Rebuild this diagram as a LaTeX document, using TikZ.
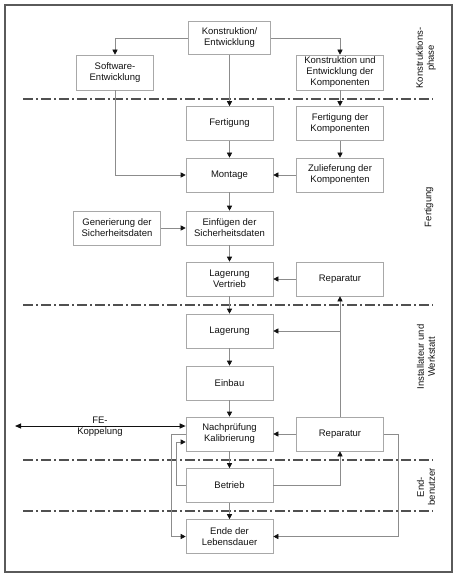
\documentclass[tikz,border=0pt]{standalone}
\usepackage{fontspec}
\setmainfont{Liberation Sans}
\usetikzlibrary{arrows.meta}
\definecolor{ink}{HTML}{111111}
\definecolor{linegray}{HTML}{8C8C8C}
\definecolor{boxgray}{HTML}{A8A8A8}
\definecolor{sepgray}{HTML}{505050}
\definecolor{framegray}{HTML}{5A5A5A}

\begin{document}
\begin{tikzpicture}[
  x=1pt, y=-1pt, font=\fontsize{9.5}{11}\selectfont,
  box/.style={draw=boxgray, line width=0.6pt, minimum width=87pt, minimum height=34pt, inner sep=1pt, align=center, text=ink},
  arr/.style={draw=linegray, line width=0.6pt, -{Triangle[length=5pt,width=5pt,color=ink]}},
  phaseline/.style={draw=sepgray, line width=1.2pt, dash pattern=on 10pt off 3pt on 2pt off 3pt},
  phase/.style={rotate=90, align=center, text=ink},
  coupling/.style={draw=ink, line width=1pt, {Triangle[length=6pt,width=5pt]}-{Triangle[length=6pt,width=5pt]}}
]
\useasboundingbox (0,0) rectangle (457,577);
\draw[framegray, line width=1.2pt] (5,5) rectangle (452,572);

% Phasengrenzen
\foreach \y in {99,305,460,511} {\draw[phaseline] (23,\y) -- (433,\y);}

% Konstruktionsphase
\node[box, minimum width=82pt, minimum height=33pt] (konst) at (229.5,38) {Konstruktion/\\Entwicklung};
\node[box, minimum width=77pt, minimum height=35pt] (sw) at (115,72.5) {Software-\\Entwicklung};
\node[box, minimum height=35pt] (kek) at (340,72.5) {Konstruktion und\\Entwicklung der\\Komponenten};

% Fertigung
\node[box] (fert) at (229.5,123.5) {Fertigung};
\node[box] (fdk) at (340,123.5) {Fertigung der\\Komponenten};
\node[box] (mont) at (229.5,175) {Montage};
\node[box] (zul) at (340,175) {Zulieferung der\\Komponenten};
\node[box] (gen) at (117,228) {Generierung der\\Sicherheitsdaten};
\node[box] (einf) at (229.5,228) {Einf\"ugen der\\Sicherheitsdaten};
\node[box] (lv) at (229.5,279) {Lagerung\\Vertrieb};
\node[box] (rep1) at (340,279) {Reparatur};

% Installateur und Werkstatt
\node[box] (lag) at (229.5,331) {Lagerung};
\node[box] (einbau) at (229.5,383) {Einbau};
\node[box] (nach) at (229.5,434) {Nachpr\"ufung\\Kalibrierung};
\node[box] (rep2) at (340,434) {Reparatur};

% Endbenutzer
\node[box] (betr) at (229.5,485.5) {Betrieb};
\node[box] (ende) at (229.5,536.5) {Ende der\\Lebensdauer};

% Phasen
\node[phase] (ph1) at (426,58) {Konstruktions-\\phase};
\node[phase] (ph2) at (429,207) {Fertigung};
\node[phase] (ph3) at (426,357) {Installateur und\\Werkstatt};
\node[phase] (ph4) at (426,487) {End-\\benutzer};

% Verbindungen
\draw[arr] (konst.west) -| (sw.north);
\draw[arr] (konst.east) -| (kek.north);
\draw[arr] (konst) -- (fert);
\draw[arr] (sw.south) |- (mont.west);
\draw[arr] (kek) -- (fdk);
\draw[arr] (fdk) -- (zul);
\draw[arr] (fert) -- (mont);
\draw[arr] (zul) -- (mont);
\draw[arr] (mont) -- (einf);
\draw[arr] (gen) -- (einf);
\draw[arr] (einf) -- (lv);
\draw[arr] (rep1) -- (lv);
\draw[arr] (lv) -- (lag);
\draw[arr] (rep2.north) -- (rep1.south);
\draw[arr] (rep2.north |- lag.east) -- (lag.east);
\draw[arr] (lag) -- (einbau);
\draw[arr] (einbau) -- (nach);
\draw[arr] (rep2) -- (nach);
\draw[arr] (nach) -- (betr);
\draw[arr] (betr) -- (ende);
\draw[arr] (betr.east) -| (rep2.south);
\draw[arr] (rep2.east) -- ++(14,0) |- (ende.east);
\draw[arr] (betr.west) -- ++(-9,0) |- ([yshift=-8pt]nach.west);
\draw[arr] (nach.west) -- ++(-14,0) |- (ende.west);

% FE-Koppelung
\coordinate (feend) at (15,426);
\draw[coupling] (feend) -- (feend -| nach.west);
\node[align=center, text=ink] (fetext) at (100,426.5) {FE-\\Koppelung};
\end{tikzpicture}
\end{document}
